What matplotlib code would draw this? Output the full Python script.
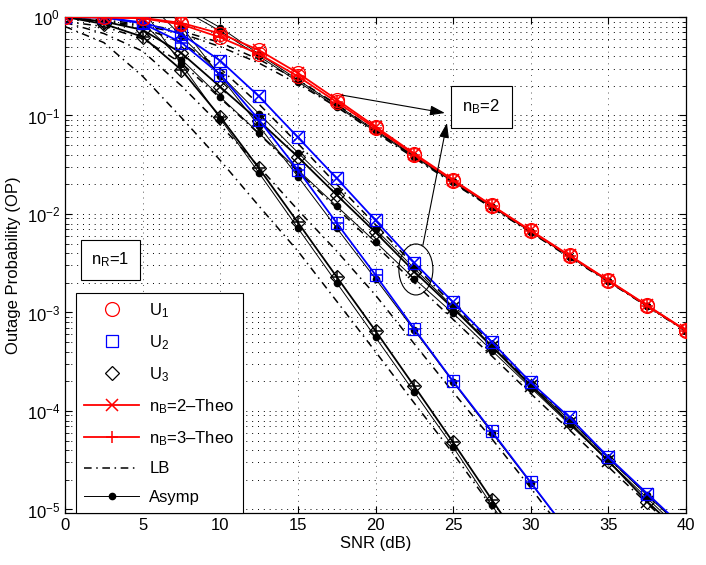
import numpy as np
import matplotlib
matplotlib.use('Agg')
import matplotlib.pyplot as plt
from matplotlib.lines import Line2D
from matplotlib.patches import Ellipse
from matplotlib.ticker import LogLocator, NullFormatter

plt.rcParams['font.family'] = ['Liberation Sans', 'DejaVu Sans']
plt.rcParams['mathtext.fontset'] = 'custom'
plt.rcParams['mathtext.rm'] = 'Liberation Sans'
plt.rcParams['mathtext.it'] = 'Liberation Sans:italic'
plt.rcParams['mathtext.default'] = 'regular'

nan = np.nan
snr_db = [0, 2.5, 5, 7.5, 10, 12.5, 15, 17.5, 20, 22.5, 25, 27.5, 30, 32.5, 35, 37.5, 40]

# exact / simulation values
u1_nb2 = [1.0, 0.99, 0.98, 0.87, 0.68, 0.46, 0.27, 0.145, 0.077, 0.041, 0.0222, 0.0122, 0.0068, 0.0038, 0.00212, 0.00118, 0.00066]
u1_nb3 = [1.0, 0.99, 0.97, 0.84, 0.62, 0.42, 0.25, 0.137, 0.074, 0.040, 0.0218, 0.0121, 0.0067, 0.00375, 0.0021, 0.00117, 0.00065]
u2_nb2 = [1.0, 0.99, 0.88, 0.67, 0.36, 0.156, 0.06, 0.023, 0.0086, 0.0032, 0.00127, 0.0005, 0.000195, 0.000086, 0.000034, 0.0000145, 0.0000062]
u2_nb3 = [1.0, 0.99, 0.86, 0.55, 0.26, 0.09, 0.028, 0.0081, 0.0024, 0.00068, 0.0002, 0.000062, 0.0000188, 0.0000057, nan, nan, nan]
u3_nb2 = [1.0, 0.9, 0.74, 0.43, 0.195, 0.088, 0.038, 0.0156, 0.0065, 0.0026, 0.0011, 0.00045, 0.00018, 0.000076, 0.000031, 0.000012, 0.0000052]
u3_nb3 = [1.0, 0.85, 0.63, 0.29, 0.097, 0.029, 0.0082, 0.0023, 0.00065, 0.000178, 0.000048, 0.0000125, 0.0000033, nan, nan, nan, nan]

# lower bounds
lb_u1_nb2 = [0.97, 0.93, 0.85, 0.72, 0.55, 0.37, 0.23, 0.13, 0.07, 0.038, 0.0208, 0.0116, 0.0065, 0.0037, 0.00207, 0.00116, 0.00065]
lb_u1_nb3 = [0.96, 0.9, 0.82, 0.68, 0.5, 0.34, 0.21, 0.122, 0.067, 0.037, 0.0205, 0.0115, 0.0065, 0.0036, 0.00205, 0.00115, 0.00064]
lb_u2_nb2 = [0.95, 0.9, 0.78, 0.55, 0.3, 0.13, 0.052, 0.02, 0.0078, 0.003, 0.0012, 0.00048, 0.00019, 0.000083, 0.000033, 0.0000142, 0.0000061]
lb_u2_nb3 = [0.88, 0.68, 0.45, 0.2, 0.08, 0.03, 0.011, 0.0042, 0.0015, 0.00048, 0.000155, 0.000052, 0.0000165, 0.000005, nan, nan, nan]
lb_u3_nb2 = [0.9, 0.8, 0.6, 0.34, 0.15, 0.065, 0.027, 0.0115, 0.0048, 0.002, 0.00085, 0.00036, 0.00015, 0.000064, 0.000027, 0.0000115, 0.0000049]
lb_u3_nb3 = [0.8, 0.55, 0.25, 0.095, 0.035, 0.012, 0.0042, 0.0013, 0.0004, 0.00012, 0.000037, 0.0000105, 0.000003, nan, nan, nan, nan]

# asymptotes
as_u1_nb2 = [7.3, 4.1, 2.3, 1.3, 0.78, 0.42, 0.23, 0.127, 0.071, 0.039, 0.0215, 0.0119, 0.0066, 0.0037, 0.00208, 0.00117, 0.00065]
as_u1_nb3 = [6.5, 3.7, 2.1, 1.2, 0.72, 0.4, 0.22, 0.123, 0.069, 0.038, 0.0212, 0.0118, 0.0066, 0.0037, 0.00207, 0.00116, 0.00065]
as_u2_nb2 = [10.0, 4.0, 1.6, 0.64, 0.26, 0.104, 0.042, 0.0172, 0.007, 0.0028, 0.00114, 0.00046, 0.000185, 0.000081, 0.000033, 0.0000139, 0.000006]
as_u2_nb3 = [27.0, 8.3, 2.6, 0.8, 0.25, 0.078, 0.024, 0.0072, 0.0022, 0.00066, 0.000196, 0.00006, 0.0000185, 0.0000057, nan, nan, nan]
as_u3_nb2 = [4.8, 2.0, 0.87, 0.37, 0.154, 0.066, 0.028, 0.012, 0.0052, 0.0022, 0.00098, 0.00041, 0.000172, 0.000073, 0.000031, 0.000013, 0.0000055]
as_u3_nb3 = [17.0, 4.6, 1.2, 0.33, 0.093, 0.026, 0.0072, 0.002, 0.00056, 0.000155, 0.000043, 0.000011, 0.000003, nan, nan, nan, nan]

lb_style = (0, (5, 3, 1, 3))

fig = plt.figure(figsize=(7.06, 5.65), dpi=100)
ax = fig.add_axes([0.0921, 0.092, 0.8796, 0.8779])
ax.set_yscale('log')

# lower bounds and asymptotes underneath
for lb in [lb_u1_nb2, lb_u1_nb3, lb_u2_nb2, lb_u2_nb3, lb_u3_nb2, lb_u3_nb3]:
    ax.plot(snr_db, lb, color='k', ls=lb_style, lw=1.1, zorder=2)
for asy in [as_u1_nb2, as_u1_nb3, as_u2_nb2, as_u2_nb3, as_u3_nb2, as_u3_nb3]:
    ax.plot(snr_db, asy, color='k', ls='-', lw=0.7, marker='o', ms=4.5, zorder=2)

# theory lines + simulation markers
curves = [
    (u3_nb2, 'k', 'D', 'x'), (u3_nb3, 'k', 'D', '+'),
    (u2_nb2, 'b', 's', 'x'), (u2_nb3, 'b', 's', '+'),
    (u1_nb2, 'r', 'o', 'x'), (u1_nb3, 'r', 'o', '+'),
]
for vals, col, sim_mk, th_mk in curves:
    ax.plot(snr_db, vals, color=col, lw=1.3, marker=th_mk, ms=8, mew=1.1, zorder=3)
    ax.plot(snr_db, vals, ls='none', marker=sim_mk, mfc='none', mec=col,
            ms=7.5 if sim_mk == 'D' else (10 if sim_mk == 'o' else 8.5), mew=0.9, zorder=3)

ax.set_xlim(0, 40)
ax.set_ylim(9.2e-6, 1)
ax.set_xticks([0, 5, 10, 15, 20, 25, 30, 35, 40])
ax.yaxis.set_major_locator(LogLocator(base=10, numticks=10))
ax.yaxis.set_minor_locator(LogLocator(base=10, subs=np.arange(2, 10), numticks=20))
ax.yaxis.set_minor_formatter(NullFormatter())
ax.tick_params(which='both', direction='in', top=True, right=True, labelsize=12)
ax.tick_params(which='major', length=5)
ax.tick_params(which='minor', length=3)
ax.grid(True, which='major', axis='y', ls=(0, (1, 5)), color='k', lw=0.7)
ax.grid(True, which='major', axis='x', ls=(0, (1, 5)), color='0.35', lw=0.7)
ax.grid(True, which='minor', axis='y', ls=(0, (1, 5)), color='k', lw=0.7)
for s in ax.spines.values():
    s.set_linewidth(0.9)

ax.set_xlabel('SNR (dB)', fontsize=12, labelpad=2)
ax.set_ylabel('Outage Probability (OP)', fontsize=12, labelpad=4)

# annotations
ax.text(26.8, 0.122, r'n$_B$=2', ha='center', va='center', fontsize=12,
        bbox=dict(boxstyle='square,pad=0.7', fc='w', ec='k', lw=0.8), zorder=5)
ax.text(2.9, 3.4e-3, r'n$_R$=1', ha='center', va='center', fontsize=12,
        bbox=dict(boxstyle='square,pad=0.62', fc='w', ec='k', lw=0.8), zorder=5)
arrow = dict(arrowstyle='-|>,head_length=0.9,head_width=0.3', color='k', lw=0.8,
             shrinkA=0, shrinkB=0)
ax.annotate('', xy=(24.47, 0.106), xytext=(17.84, 0.161), arrowprops=arrow, zorder=5)
ax.annotate('', xy=(24.6, 0.084), xytext=(23.05, 4.8e-3), arrowprops=arrow, zorder=5)
ax.add_patch(Ellipse((0.565, 0.491), 0.0548, 0.1028, transform=ax.transAxes,
                     fill=False, ec='k', lw=0.8, zorder=5))

handles = [
    Line2D([], [], ls='none', marker='o', mfc='none', mec='r', ms=10, mew=0.9),
    Line2D([], [], ls='none', marker='s', mfc='none', mec='b', ms=8.5, mew=0.9),
    Line2D([], [], ls='none', marker='D', mfc='none', mec='k', ms=7.5, mew=0.9),
    Line2D([], [], color='r', lw=1.3, marker='x', ms=8, mew=1.1),
    Line2D([], [], color='r', lw=1.3, marker='+', ms=8, mew=1.1),
    Line2D([], [], color='k', lw=1.1, ls=lb_style),
    Line2D([], [], color='k', lw=0.7, marker='o', ms=4.5),
]
labels = [r'U$_1$', r'U$_2$', r'U$_3$', r'n$_B$=2–Theo', r'n$_B$=3–Theo', 'LB', 'Asymp']
leg = ax.legend(handles, labels, loc='lower left', bbox_to_anchor=(0.0177, 0.0),
                borderaxespad=0, fancybox=False, edgecolor='k', framealpha=1,
                fontsize=12, handlelength=3.3, labelspacing=0.8, borderpad=0.5,
                handletextpad=0.6)
leg.get_frame().set_linewidth(0.8)
leg.set_zorder(6)

fig.savefig('out.png', dpi=100)
